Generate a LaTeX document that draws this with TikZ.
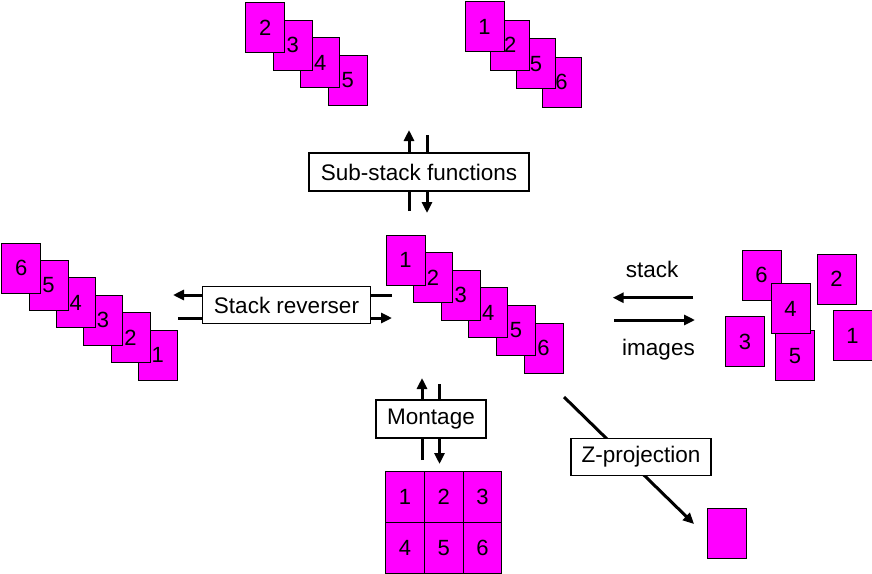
\documentclass[tikz,border=0pt]{standalone}
\usepackage{fontspec}
\setmainfont{Liberation Sans}
\usetikzlibrary{arrows.meta}
\definecolor{slidefill}{RGB}{255,0,255}

\begin{document}
\begin{tikzpicture}[x=1pt,y=-1pt,>={Triangle[length=11pt,width=10pt]},
    slide/.style={draw,fill=slidefill,line width=0.8pt,minimum width=39pt,
      minimum height=50pt,inner sep=0pt,font=\fontsize{22}{26}\selectfont},
    func/.style={draw,fill=white,line width=1.3pt,inner sep=0pt,
      font=\fontsize{22.5}{27}\selectfont},
    flow/.style={->,line width=3pt}]
  \useasboundingbox (0,0) rectangle (872,573);
  % stacks of slides, first slide on top
  \foreach \k/\n in {5/6,4/5,3/4,2/3,1/2,0/1}
    \node[slide] (c\n) at ({405.5+27.6*\k},{260+17.6*\k}) {\n};
  \foreach \k/\n in {5/1,4/2,3/3,2/4,1/5,0/6}
    \node[slide] (l\n) at ({21.2+27.3*\k},{268+17.4*\k}) {\n};
  \foreach \k/\n in {3/5,2/4,1/3,0/2}
    \node[slide] (a\n) at ({265.2+27.5*\k},{27.7+17.5*\k}) {\n};
  \foreach \k/\n in {3/6,2/5,1/2,0/1}
    \node[slide] (b\n) at ({484.5+25.7*\k},{26.7+18.5*\k}) {\n};
  % loose images
  \node[slide] (i6) at (761.5,275) {6};
  \node[slide] (i5) at (795,355.7) {5};
  \node[slide] (i4) at (790.5,308.5) {4};
  \node[slide] (i3) at (745,341.7) {3};
  \node[slide] (i2) at (836.5,279) {2};
  \node[slide] (i1) at (852.5,335.5) {1};
  % montage and projection
  \foreach \n in {1,...,6} {
    \pgfmathtruncatemacro\col{mod(\n-1,3)}
    \pgfmathtruncatemacro\row{(\n-1)/3}
    \node[slide,minimum width=38.7pt,minimum height=50.6pt] (m\n)
      at ({405.05+38.7*\col},{497+50.6*\row}) {\n};
  }
  \node[slide] (proj) at (727.2,533.2) {};
  % arrows
  \coordinate (s1) at (409,211); \coordinate (s2) at (409,130);
  \coordinate (s3) at (427,135); \coordinate (s4) at (427,213);
  \coordinate (r1) at (392,295); \coordinate (r2) at (173,295);
  \coordinate (r3) at (178,318); \coordinate (r4) at (392,318);
  \coordinate (t1) at (422,460); \coordinate (t2) at (422,378);
  \coordinate (t3) at (439.5,384); \coordinate (t4) at (439.5,464);
  \coordinate (i1a) at (693,297.7); \coordinate (i1b) at (612.7,297.7);
  \coordinate (i2a) at (614,320); \coordinate (i2b) at (695,320);
  \coordinate (z1) at (564,397); \coordinate (z2) at (694,524);
  \foreach \p/\q in {s1/s2,s3/s4,r1/r2,r3/r4,t1/t2,t3/t4,i1a/i1b,i2a/i2b,z1/z2}
    \draw[flow] (\p) -- (\q);
  % function boxes
  \node[func,minimum width=220pt,minimum height=38pt] (sub) at (419,172) {Sub-stack functions};
  \node[func,minimum width=168pt,minimum height=37pt] (rev) at (286.5,305.3) {Stack reverser};
  \node[func,minimum width=110pt,minimum height=38pt] (mon) at (431,419) {Montage};
  \node[func,minimum width=140pt,minimum height=37pt] (zpr) at (641,457) {Z-projection};
  \node[font=\fontsize{22.5}{27}\selectfont] (stk) at (652,269.5) {stack};
  \node[font=\fontsize{22.5}{27}\selectfont] (img) at (658.5,350) {images};
\end{tikzpicture}
\end{document}
